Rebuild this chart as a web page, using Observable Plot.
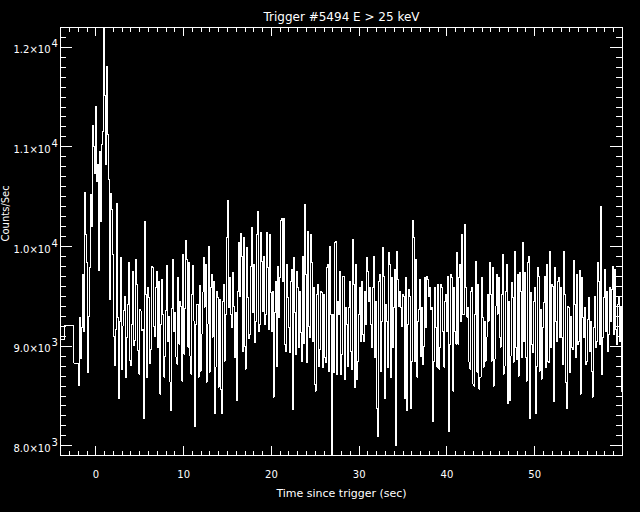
<!DOCTYPE html>
<html><head><meta charset="utf-8">
<script src="https://cdn.jsdelivr.net/npm/d3@7"></script>
<script src="https://cdn.jsdelivr.net/npm/@observablehq/plot@0.6"></script>
<style>html,body{margin:0;padding:0;background:#000;overflow:hidden}svg{display:block}</style>
</head><body><div id="chart"></div>
<script>
const title = "Trigger #5494 E > 25 keV";
const xLabel = "Time since trigger (sec)";
const yLabel = "Counts/Sec";
const xMajor = [0, 10, 20, 30, 40, 50];
const xMajorLabels = ["0", "10", "20", "30", "40", "50"];
const yMajor = [8000, 9000, 10000, 11000, 12000];
const yMantissa = ["8.0×10", "9.0×10", "1.0×10", "1.1×10", "1.2×10"];
const yExponent = ["3", "3", "4", "4", "4"];

// 1.024 s pre-trigger bins (start times) and their rates
const preTimes = [-4.03, -3.53, -2.51];
const preCounts = [9070, 9210, 8830];
// fine-resolution bins from fineStart to fineEnd
const fineStart = -1.97;
const fineEnd = 60;
const counts = [
8603,9286,8880,9186,9720,9150,10543,10120,9843,8737,9300,9786,10520,10200,11210,11000,10733,11403,10653,10820,9760,10953,10253,11020,11153,12190,11513,10820,11803,11120,10677,9470,10537,10370,9920,9100,8810,9170,10430,9286,8470,9250,9893,8770,9203,9360,9503,8686,9086,9420,9843,8853,8810,9220,9753,9003,9053,9866,9620,8953,8720,9370,9353,9153,9170,8276,10253,9520,8686,9593,9486,8826,8970,9796,
9790,9200,9100,9590,9750,8990,9650,8520,9220,9670,9320,8690,8900,9360,9810,9050,9300,8640,8350,9380,9870,9150,9340,8890,8820,9690,9020,9450,9400,8650,9920,8920,9380,10060,9870,8990,9840,8900,8720,9520,9810,9250,8190,9220,9420,8690,9610,8750,9120,9540,9890,9390,9820,8640,9220,10000,8740,9590,9720,9090,9650,8320,8790,9550,9490,8590,9470,8570,8320,9450,9620,8850,9320,10090,10460,9390,9690,9320,9190,9740,9400,8890,9340,8450,9550,10040,9500,10130,9900,8950,10090,9000,8770,9990,
9490,9080,9120,9800,10190,9340,9820,9040,9250,10120,10350,9150,9220,10140,9850,9350,9900,9220,9320,10140,9790,9170,10120,9540,9150,9550,8490,9340,9650,8800,9800,9290,9690,10260,10280,9650,10280,9020,8950,9820,9490,9190,8940,9650,9770,8360,9890,9340,8920,9750,9590,8990,9550,9140,8850,9900,9030,10420,9720,8840,10150,9200,9090,10120,9840,9050,9590,8620,8550,9520,9620,8800,8970,9550,9540,8790,9520,8890,8840,9790,9820,8750,10000,9320,7800,9320,8740,10040,10050,8720,9450,9320,
9750,8720,8920,9700,9700,8670,9390,9220,8800,9390,9650,8950,8770,10070,9620,8590,9820,8670,8850,9320,9590,9050,9650,9120,9050,9550,9220,9890,9750,9450,9590,9220,8990,9590,9900,8890,9450,8370,8090,9650,9720,8750,9250,9990,9700,8470,9420,9250,8790,9940,9820,8690,9690,8990,9390,9770,8000,9950,9670,9400,9550,9390,9200,9520,9500,8470,9690,8350,9220,9570,9500,8370,8850,10260,10090,8850,9870,8690,9250,9370,9670,8900,9390,8820,9000,9690,9190,9700,9670,9500,9590,9370,
9390,8240,8850,9590,9190,8790,9620,8770,8990,9620,9590,9150,8790,9450,9520,9150,9700,8140,9020,9720,9690,8550,9590,9150,9020,9940,9020,9690,9820,9250,10120,9320,9320,10220,9590,9290,9390,8840,8770,9550,9590,8620,8600,9320,9850,8740,9620,8570,8690,9690,9290,8790,9250,8850,9090,9520,9250,9840,9520,8850,9790,8600,8870,9400,9720,9320,9690,9090,8990,9520,9920,8720,8800,9550,9820,8420,9450,8450,8900,9640,9490,8840,9950,8990,8870,9720,8700,9740,9550,8890,10040,9050,
9740,8890,8650,9840,9900,8270,9540,9020,8940,9450,9590,8320,8800,9790,9700,8750,9370,8670,9190,9440,9700,8790,9820,8850,8840,9950,8990,9620,9600,8440,9790,9250,9050,9650,9690,9090,9590,9090,8820,9950,9520,8640,8370,9400,9390,8740,9300,8990,8970,9860,9420,8890,9720,9020,9050,9760,8520,9690,9290,9090,9390,8820,8850,9270,9490,8950,9250,8750,8490,9190,9500,8990,9050,9840,9650,9020,10400,8720,9090,9490,9770,9150,9550,8950,9120,9590,9250,9570,9800,9120,9770,9170,9020,9420,9490,9050,9390,8550
];

const fineDt = (fineEnd - fineStart) / counts.length;
const data = [];
preTimes.forEach((t, i) => data.push({t, c: preCounts[i]}));
counts.forEach((c, i) => data.push({t: fineStart + i * fineDt, c}));
data.push({t: fineEnd, c: counts[counts.length - 1]});

const xMinor = d3.range(-3, 60).filter(v => v % 10 !== 0);
const yMinor = d3.range(8100, 12200, 100).filter(v => v % 1000 !== 0);

const W = 640, H = 512, mL = 60, mR = 18, mT = 27, mB = 57;
const iH = H - mT - mB, iW = W - mL - mR;
const font = "'DejaVu Sans', sans-serif";
const crisp = {stroke: "white", strokeWidth: 1, shapeRendering: "crispEdges"};

const chart = Plot.plot({
  width: W, height: H,
  marginLeft: mL, marginRight: mR, marginTop: mT, marginBottom: mB,
  style: {background: "black", color: "white", fontFamily: font, fontSize: "10px"},
  x: {domain: [-4.03, 60], axis: null},
  y: {domain: [7903, 12198], axis: null},
  marks: [
    Plot.line(data, {x: "t", y: "c", curve: "step-after", clip: true, ...crisp}),
    Plot.frame(crisp),
    // bottom ticks
    Plot.tickX(xMajor, {x: d => d, insetTop: iH - 9, ...crisp}),
    Plot.tickX(xMinor, {x: d => d, insetTop: iH - 4, ...crisp}),
    // top ticks
    Plot.tickX(xMajor, {x: d => d, insetBottom: iH - 9, ...crisp}),
    Plot.tickX(xMinor, {x: d => d, insetBottom: iH - 5, ...crisp}),
    // left ticks
    Plot.tickY(yMajor, {y: d => d, insetRight: iW - 12, ...crisp}),
    Plot.tickY(yMinor, {y: d => d, insetRight: iW - 6, ...crisp}),
    // right ticks
    Plot.tickY(yMajor, {y: d => d, insetLeft: iW - 12, ...crisp}),
    Plot.tickY(yMinor, {y: d => d, insetLeft: iW - 6, ...crisp}),
    Plot.text(xMajor, {x: d => d, text: (d, i) => xMajorLabels[i], frameAnchor: "bottom", dy: 22, lineAnchor: "bottom", fill: "white", fontSize: 10}),
    Plot.text(yMajor, {y: d => d, text: (d, i) => yMantissa[i], frameAnchor: "left", textAnchor: "end", dx: -10, dy: 6, lineAnchor: "bottom", fill: "white", fontSize: 10}),
    Plot.text(yMajor, {y: d => d, text: (d, i) => yExponent[i], frameAnchor: "left", textAnchor: "start", dx: -9, dy: 0, lineAnchor: "bottom", fill: "white", fontSize: 10}),
    Plot.text([title], {frameAnchor: "top", dy: -7, lineAnchor: "bottom", fill: "white", fontSize: 12}),
    Plot.text([xLabel], {frameAnchor: "bottom", dy: 41, lineAnchor: "bottom", fill: "white", fontSize: 11}),
    Plot.text([yLabel], {frameAnchor: "left", dx: -51.5, rotate: -90, lineAnchor: "bottom", fill: "white", fontSize: 10})
  ]
});
document.getElementById("chart").append(chart);
</script>
</body></html>
